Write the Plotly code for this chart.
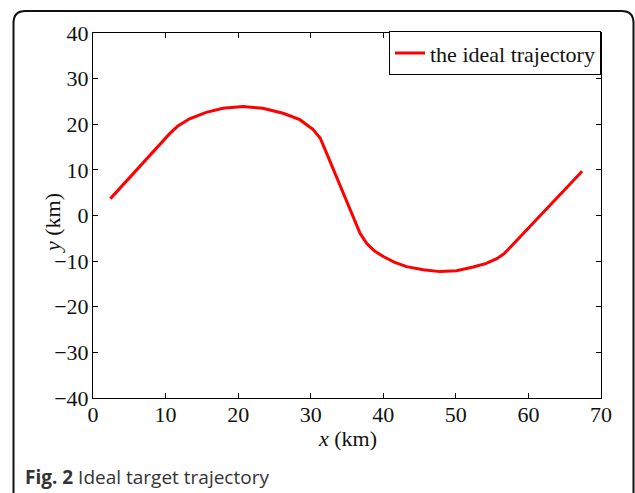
import plotly.graph_objects as go

# ---- data ----
x_km = [2.4, 6.5, 10.6, 11.7, 13.3, 15.6, 17.9, 20.7, 23.4, 26.2, 28.5, 30.3, 31.3, 32.2,
        34.5, 36.8, 37.7, 38.8, 40.0, 41.5, 43.2, 45.5, 47.8, 50.1, 52.4, 54.2, 55.7,
        56.7, 57.6, 63.0, 67.4]
y_km = [3.7, 10.8, 18.0, 19.6, 21.2, 22.6, 23.5, 23.9, 23.5, 22.4, 21.0, 18.9, 17.0, 13.6,
        4.9, -3.9, -6.1, -7.8, -9.0, -10.2, -11.2, -11.9, -12.3, -12.1, -11.3, -10.5, -9.4,
        -8.3, -6.8, 2.3, 9.7]
x_ticks = [0, 10, 20, 30, 40, 50, 60, 70]
y_ticks = [-40, -30, -20, -10, 0, 10, 20, 30, 40]
series_name = "the ideal trajectory"
x_title = "<i>x</i> (km)"
y_title = "<i>y</i> (km)"
caption_bold = "Fig. 2"
caption_text = " Ideal target trajectory"

# ---- layout geometry (pixels) ----
W, H = 635, 493
L, R, T, B = 93, 34, 33, 95
PW, PH = W - L - R, H - T - B


def px(xp):
    return (xp - L) / PW


def py(yp):
    return (H - B - yp) / PH


serif = "Liberation Serif, Times New Roman, serif"
ink = "#111111"

fig = go.Figure()
fig.add_trace(go.Scatter(
    x=x_km, y=y_km, mode="lines", name=series_name,
    line=dict(color="#ff0000", width=3),
    showlegend=True,
))

# outer rounded frame (top + left + right edges)
fl, ft, fr, rad = 13.5, 11, 633.5, 12
frame_path = (
    f"M {px(fl)},{py(H + 5)} L {px(fl)},{py(ft + rad)} "
    f"Q {px(fl)},{py(ft)} {px(fl + rad)},{py(ft)} "
    f"L {px(fr - rad)},{py(ft)} "
    f"Q {px(fr)},{py(ft)} {px(fr)},{py(ft + rad)} "
    f"L {px(fr)},{py(H + 5)}"
)
fig.add_shape(type="path", path=frame_path, xref="paper", yref="paper",
              line=dict(color="#111111", width=2), layer="above")

# caption
fig.add_annotation(
    x=px(23), y=py(477), xref="paper", yref="paper",
    xanchor="left", yanchor="middle", showarrow=False,
    text=f"<b>{caption_bold}</b>{caption_text}",
    font=dict(family="Open Sans, Noto Sans, sans-serif", size=19, color="#333333"),
)

# axis titles
fig.add_annotation(
    x=px(347), y=py(438), xref="paper", yref="paper",
    xanchor="center", yanchor="middle", showarrow=False,
    text=x_title, font=dict(family=serif, size=22, color=ink),
)
fig.add_annotation(
    x=px(52), y=py(223), xref="paper", yref="paper",
    xanchor="center", yanchor="middle", showarrow=False, textangle=-90,
    text=y_title, font=dict(family=serif, size=22, color=ink),
)

axis_common = dict(
    showline=True, linecolor="black", linewidth=1, mirror="ticks",
    ticks="inside", ticklen=5, tickcolor="black", tickwidth=1,
    showgrid=False, zeroline=False,
    tickfont=dict(family=serif, size=22, color=ink),
)

fig.update_layout(
    width=W, height=H,
    margin=dict(l=L, r=R, t=T, b=B, autoexpand=False),
    paper_bgcolor="white", plot_bgcolor="white",
    xaxis=dict(range=[0, 70], tickvals=x_ticks, ticklabelstandoff=-3, **axis_common),
    yaxis=dict(range=[-40, 40], tickvals=y_ticks, ticklabelstandoff=-1, **axis_common),
    legend=dict(x=1, y=1.005, xanchor="right", yanchor="top",
                bordercolor="black", borderwidth=1, bgcolor="white",
                font=dict(family=serif, size=22, color=ink),
                tracegroupgap=0),
    showlegend=True,
)

fig.write_html("out.html")
